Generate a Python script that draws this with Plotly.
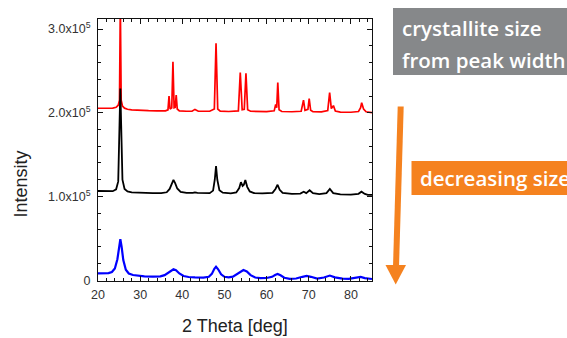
import plotly.graph_objects as go

# ---- XRD patterns (2-theta in degrees, intensity in counts) ----
red_x = [20.0, 22.0, 23.5, 24.3, 24.8, 25.1, 25.3, 25.5, 25.8, 26.3, 27.0, 28.0, 30.0, 32.0, 34.0,
         36.0, 36.6, 36.85, 37.1, 37.5, 37.78, 38.05, 38.3, 38.55, 38.8, 39.3, 41.0, 42.3, 43.0,
         43.8, 46.5, 47.6, 48.0, 48.4, 49.0, 51.0, 53.3, 53.75, 54.2, 54.7, 55.1, 55.5, 56.2,
         58.0, 60.0, 61.8, 62.15, 62.4, 62.65, 62.95, 63.6, 66.0, 68.2, 68.75, 69.1, 69.8, 70.1,
         70.45, 71.0, 73.0, 74.5, 74.95, 75.35, 75.85, 76.3, 77.5, 80.0, 81.8, 82.3, 82.55, 83.0,
         83.6, 85.0]
red_y = [205400, 205200, 205500, 206500, 209000, 215000, 330000, 215000, 208000, 205500, 204200,
         203500, 202800, 202500, 202300, 202300, 203500, 220000, 204500, 206000, 261000, 206000,
         206500, 221000, 204500, 202300, 201800, 201800, 204000, 201800, 201800, 204500, 283000,
         204500, 202000, 201500, 202300, 248000, 203500, 204000, 247000, 203500, 201800, 201500,
         201300, 202300, 210000, 206000, 236000, 203500, 201500, 201200, 201800, 215000, 202800,
         204000, 217000, 203000, 201200, 201000, 202500, 224000, 205000, 208500, 202000, 200800,
         200600, 201500, 206000, 212000, 204500, 201200, 200200]

black_x = [20.0, 22.0, 23.5, 24.3, 24.8, 25.1, 25.3, 25.5, 25.8, 26.3, 27.0, 28.0, 30.0, 33.0, 35.0,
           36.3, 37.0, 37.5, 37.9, 38.3, 38.8, 39.6, 41.0, 42.5, 43.0, 43.6, 46.5, 47.3, 47.7, 48.0,
           48.3, 48.8, 49.6, 51.5, 52.8, 53.5, 53.9, 54.3, 54.6, 54.95, 55.4, 56.0, 57.0, 59.0,
           61.4, 62.1, 62.6, 63.1, 63.8, 66.0, 68.0, 68.8, 69.4, 70.2, 71.0, 72.5, 74.2, 75.0,
           75.8, 77.5, 80.0, 81.8, 82.5, 83.3, 84.0, 85.0]
black_y = [106500, 106000, 106300, 108500, 118000, 185000, 229000, 185000, 120000, 109000, 106000,
           104800, 104200, 104000, 104000, 105000, 109000, 115000, 119700, 116000, 109500, 105500,
           104200, 104200, 104800, 104200, 104000, 107000, 120000, 136400, 120000, 107500, 104500,
           103800, 104800, 110000, 117000, 112500, 114000, 119700, 111500, 106000, 104000, 103800,
           104300, 109000, 114000, 108000, 104200, 103000, 103500, 105700, 104000, 107400, 104000,
           102800, 104000, 109000, 104000, 102400, 102200, 103200, 105700, 103000, 101800, 101800]

blue_x = [20.0, 21.5, 22.5, 23.3, 24.0, 24.6, 25.0, 25.3, 25.6, 26.0, 26.6, 27.3, 28.3, 29.6, 31.0,
          33.0, 34.8, 35.8, 36.8, 37.4, 37.9, 38.5, 39.3, 40.3, 41.5, 43.0, 45.0, 46.3, 47.0, 47.6,
          48.0, 48.5, 49.2, 50.0, 51.0, 52.0, 52.9, 53.7, 54.5, 55.3, 56.2, 57.3, 58.5, 60.0, 61.3,
          62.0, 62.6, 63.3, 64.2, 65.5, 67.0, 68.5, 69.5, 70.5, 72.0, 73.6, 75.0, 76.2, 78.0, 79.5,
          81.3, 82.3, 83.3, 84.2, 85.0]
blue_y = [8200, 8200, 8400, 9800, 14000, 25000, 40000, 48900, 40000, 24000, 12500, 8000, 6200, 5000,
          4500, 4200, 4500, 6000, 9500, 12000, 13000, 11800, 8000, 5000, 3800, 3400, 3100, 4000,
          7500, 13500, 16100, 13000, 7000, 4000, 3300, 4200, 7000, 10200, 12200, 10500, 6000, 3200,
          2400, 2600, 4000, 6200, 7400, 5800, 2900, 1600, 2000, 4000, 5000, 4000, 1800, 3200, 5500,
          3300, 1800, 1500, 2600, 3900, 2500, 1500, 1400]

x_ticks = [20, 30, 40, 50, 60, 70, 80]
y_ticks = [0, 100000, 200000, 300000]
y_tick_text = ["0", "1.0x10<sup>5</sup>", "2.0x10<sup>5</sup>", "3.0x10<sup>5</sup>"]

W, H = 567, 338
L, R, T, B = 98, 372, 19, 281          # plot area edges in pixels


def fx(px):
    return (px - L) / (R - L)


def fy(py):
    return (B - py) / (B - T)


fig = go.Figure()
for xs, ys, col, lw in [(red_x, red_y, "#ff0000", 1.7),
                        (black_x, black_y, "#000000", 1.8),
                        (blue_x, blue_y, "#0000ff", 2.2)]:
    fig.add_trace(go.Scatter(x=xs, y=ys, mode="lines",
                             line=dict(color=col, width=lw), hoverinfo="skip"))

axis_common = dict(
    showgrid=False, zeroline=False, showline=True, linecolor="#111", linewidth=1,
    mirror="allticks", ticks="inside", ticklen=5, tickcolor="#111", tickwidth=1,
    tickfont=dict(family="Liberation Sans, Arial", size=12.5, color="#333"),
)
fig.update_xaxes(range=[20, 85], tickmode="array", tickvals=x_ticks,
                 minor=dict(dtick=2, ticks="inside", ticklen=3, tickcolor="#111"),
                 ticklabelstandoff=2, **axis_common)
fig.update_yaxes(range=[-1000, 312000], tickmode="array", tickvals=y_ticks,
                 ticktext=y_tick_text,
                 minor=dict(dtick=20000, ticks="inside", ticklen=3, tickcolor="#111"),
                 ticklabelstandoff=4, **axis_common)

title_font = dict(family="Liberation Sans, Arial", size=18, color="#222")
label_font = dict(family="Open Sans", size=20.5, color="white", weight=600)
orange = "#f5821f"
grey = "#86888a"

shapes = [
    # grey caption box
    dict(type="rect", xref="paper", yref="paper", x0=fx(393), x1=fx(620), y0=fy(75), y1=fy(8),
         fillcolor=grey, line=dict(width=0), layer="above"),
    # orange caption box
    dict(type="rect", xref="paper", yref="paper", x0=fx(411.5), x1=fx(620), y0=fy(195), y1=fy(161),
         fillcolor=orange, line=dict(width=0), layer="above"),
    # arrow shaft
    dict(type="line", xref="paper", yref="paper", x0=fx(400.7), y0=fy(106.5), x1=fx(396), y1=fy(267),
         line=dict(color=orange, width=6), layer="above"),
    # arrow head
    dict(type="path", xref="paper", yref="paper",
         path="M {:.5f},{:.5f} L {:.5f},{:.5f} L {:.5f},{:.5f} Z".format(
             fx(385.5), fy(265), fx(406), fy(265), fx(395.7), fy(284.5)),
         fillcolor=orange, line=dict(width=0), layer="above"),
]

annotations = [
    dict(text="Intensity", xref="paper", yref="paper", x=fx(20), y=fy(184.5), textangle=-90,
         showarrow=False, font=title_font, xanchor="center", yanchor="middle"),
    dict(text="2 Theta [deg]", xref="paper", yref="paper", x=fx(235), y=fy(326),
         showarrow=False, font=title_font, xanchor="center", yanchor="middle"),
    dict(text="crystallite size", xref="paper", yref="paper", x=fx(399.5), y=fy(28),
         showarrow=False, font=label_font, xanchor="left", yanchor="middle"),
    dict(text="from peak width", xref="paper", yref="paper", x=fx(399.5), y=fy(60),
         showarrow=False, font=label_font, xanchor="left", yanchor="middle"),
    dict(text="decreasing size", xref="paper", yref="paper", x=fx(418), y=fy(178),
         showarrow=False, font=label_font, xanchor="left", yanchor="middle"),
]

fig.update_layout(
    width=W, height=H, showlegend=False,
    margin=dict(l=L, r=W - R, t=T, b=H - B, pad=0),
    paper_bgcolor="white", plot_bgcolor="white",
    shapes=shapes, annotations=annotations,
)

fig.write_html("out.html")
